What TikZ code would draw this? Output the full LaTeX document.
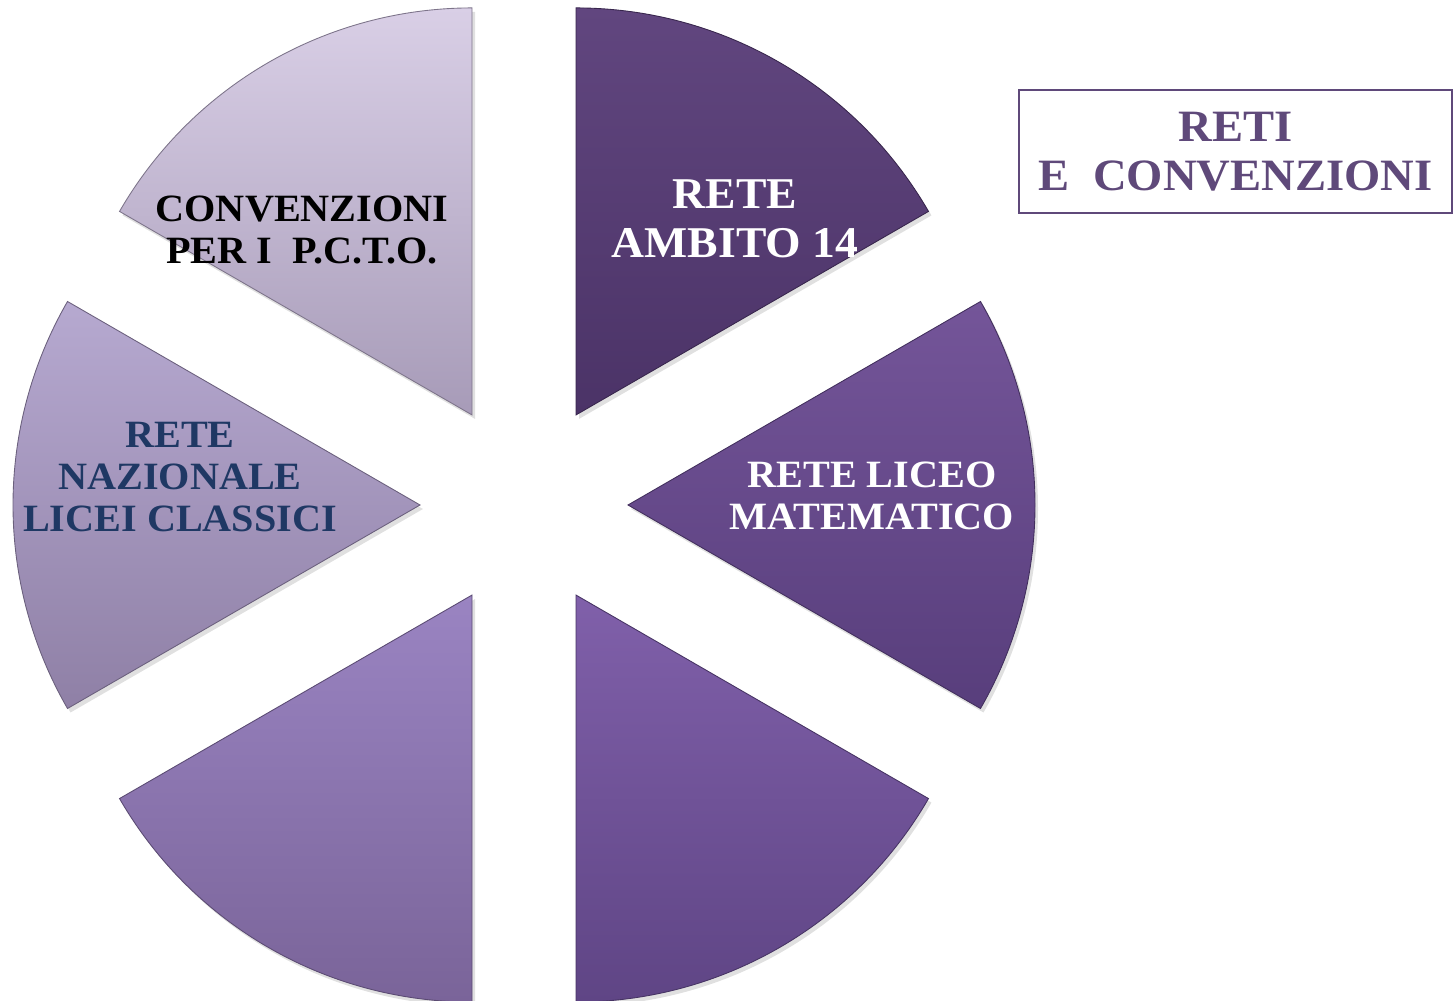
\documentclass[tikz,border=0pt]{standalone}
\usepackage{fontspec}
\setmainfont{Liberation Serif}[FakeStretch=1.04]
\usetikzlibrary{calc, positioning}

\definecolor{sliceAt}{HTML}{D9CFE6}
\definecolor{sliceAb}{HTML}{A79BB8}
\definecolor{sliceBt}{HTML}{61467F}
\definecolor{sliceBb}{HTML}{4B3367}
\definecolor{sliceCt}{HTML}{745599}
\definecolor{sliceCb}{HTML}{583E7C}
\definecolor{sliceDt}{HTML}{8060AA}
\definecolor{sliceDb}{HTML}{5F4585}
\definecolor{sliceEt}{HTML}{9A84C2}
\definecolor{sliceEb}{HTML}{7A6499}
\definecolor{sliceFt}{HTML}{B6A9D0}
\definecolor{sliceFb}{HTML}{8F80A6}
\definecolor{navytext}{HTML}{1F3864}
\definecolor{plumtext}{HTML}{5F497A}

\begin{document}
\begin{tikzpicture}[x=0.02cm, y=0.02cm,
    wlabel/.style={font=\bfseries\fontsize{22}{24}\selectfont, align=center, inner sep=0pt},
    titlebox/.style={draw=plumtext, line width=1.2pt, minimum width=433*0.02cm, minimum height=123*0.02cm,
      text=plumtext, font=\bfseries\fontsize{25.5}{28}\selectfont, align=center}]
\useasboundingbox (0,0) rectangle (1456,1000);
\coordinate (O) at (524,495);

% the six slices, pushed out from the centre
\foreach \a/\tc/\bc in {120/sliceAt/sliceAb, 60/sliceBt/sliceBb, 0/sliceCt/sliceCb,
    -60/sliceDt/sliceDb, -120/sliceEt/sliceEb, 180/sliceFt/sliceFb}{
  \fill[black, opacity=0.12] ($(O)+(\a:104)+(3,-4)$) -- ++(\a-30:407)
     arc[start angle=\a-30, end angle=\a+30, radius=407] -- cycle;
  \shade[top color=\tc, bottom color=\bc, draw=\bc!75!black, line width=0.5pt]
     ($(O)+(\a:104)$) -- ++(\a-30:407)
     arc[start angle=\a-30, end angle=\a+30, radius=407] -- cycle;
}

\node[wlabel, text=black] (pcto) at (302,770) {CONVENZIONI\\PER I\ \ P.C.T.O.};
\node[wlabel, text=white, font=\bfseries\fontsize{25}{27.5}\selectfont] (ambito) at (735,781) {RETE\\AMBITO 14};
\node[wlabel, text=white] (matematico) at (872,504) {RETE LICEO\\MATEMATICO};
\node[wlabel, text=navytext] (classici) at (180,523) {RETE\\NAZIONALE\\LICEI CLASSICI};

\node[titlebox] (reti) at (1235.5,848.5) {RETI\\E\ \ CONVENZIONI};
\end{tikzpicture}
\end{document}
